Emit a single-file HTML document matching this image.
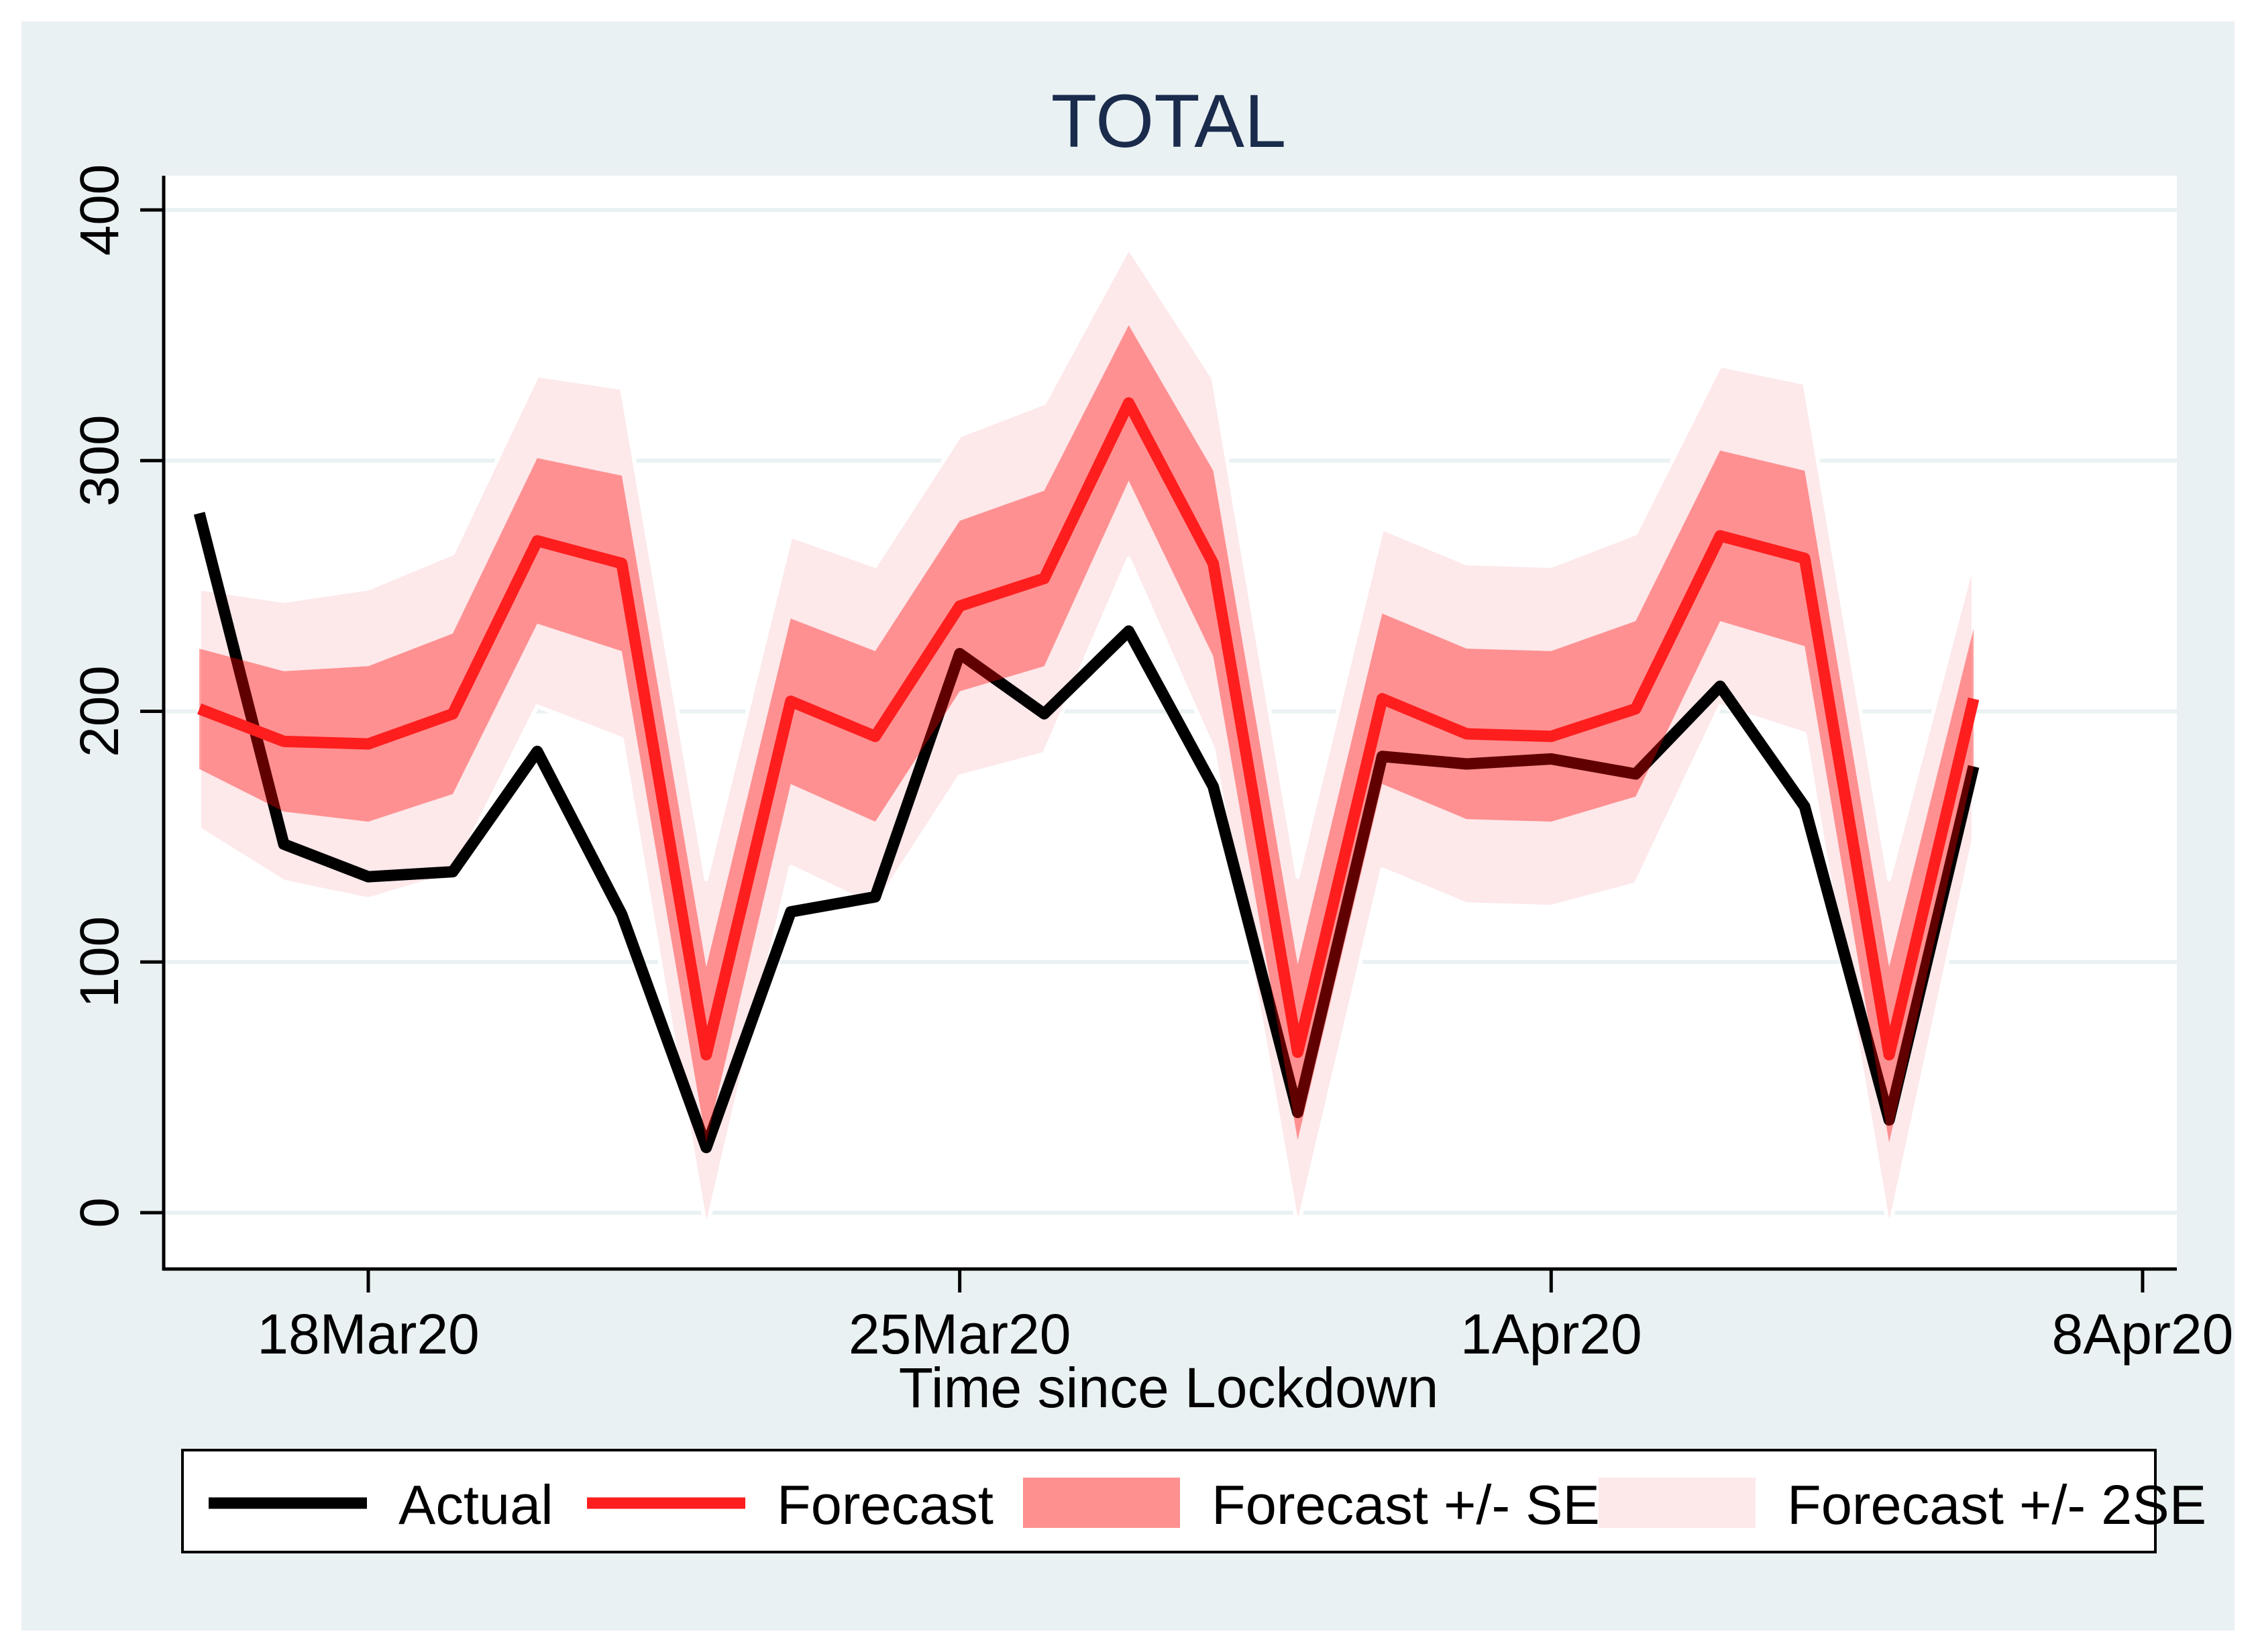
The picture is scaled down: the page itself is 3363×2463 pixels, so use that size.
<!DOCTYPE html>
<html><head><meta charset="utf-8"><style>
html,body{margin:0;padding:0;background:#fff}
svg{display:block;font-family:"Liberation Sans",Arial,sans-serif}
</style></head><body>
<svg id="chart" width="3363" height="2463" viewBox="0 0 3363 2463">
<rect x="32" y="32" width="3299" height="2399" fill="#eaf1f3"/>
<rect x="242" y="262" width="3003" height="1630" fill="#ffffff"/>
<text x="1742" y="219" font-size="112" fill="#1a2b4c" text-anchor="middle">TOTAL</text>
<g id="grid"></g>
<g id="series"></g>
<g id="axes"></g>
<text x="1742" y="2098" font-size="84" text-anchor="middle">Time since Lockdown</text>
<g>
<rect x="272" y="2162" width="2941" height="152" fill="#fff" stroke="#000" stroke-width="4"/>
<line x1="311" y1="2241" x2="547" y2="2241" stroke="#000" stroke-width="17"/>
<text x="594" y="2272" font-size="83">Actual</text>
<line x1="875" y1="2241" x2="1111" y2="2241" stroke="#ff1e1e" stroke-width="17"/>
<text x="1158" y="2272" font-size="83">Forecast</text>
<rect x="1525" y="2203" width="234" height="75" fill="#ff9090"/>
<text x="1806" y="2272" font-size="83">Forecast +/- SE</text>
<rect x="2383" y="2203" width="234" height="75" fill="#fde8ea"/>
<text x="2664" y="2272" font-size="83">Forecast +/- 2SE</text>
</g>
</svg>
<script>
const days = ["16Mar","17Mar","18Mar","19Mar","20Mar","21Mar","22Mar","23Mar","24Mar","25Mar","26Mar","27Mar","28Mar","29Mar","30Mar","31Mar","1Apr","2Apr","3Apr","4Apr","5Apr","6Apr"];
const actual = [279,147,134,136,184,119,26,120,126,223,199,232,170,40,182,179,181,175,210,162,37,178];
const forecast = [201,188,187,199,268,259,63,204,190,242,253,323,259,64,205,191,190,201,270,261,63,205];
const se = [24,28,31,32,33,35,35,33,34,34,35,31,37,35,34,34,34,35,34,35,35,28];
const yTicks = [0,100,200,300,400];
const xTickLabels = ["18Mar20","25Mar20","1Apr20","8Apr20"];
const xTickDays = [2,9,16,23];

const NS = "http://www.w3.org/2000/svg";
const y = v => 1808 - v * (1808 - 313) / 400;
const x = i => 549 + (i - 2) * 125.95;
function mk(tag, attrs, parent){const e=document.createElementNS(NS,tag);for(const k in attrs)e.setAttribute(k,attrs[k]);parent.appendChild(e);return e;}
const grid=document.getElementById('grid'), ser=document.getElementById('series'), ax=document.getElementById('axes');

yTicks.forEach(t=>{
  const g=mk('line',{x1:242,x2:3245,y1:y(t),y2:y(t),stroke:'#eaf1f3','stroke-width':6},grid);
  
  
});

function pts(arr){return arr.map((v,i)=>x(i)+','+y(v)).join(' ');}
function band(lo,hi){return lo.map((v,i)=>x(i)+','+y(v)).join(' ')+' '+hi.map((v,i)=>[x(i),y(v)]).reverse().map(p=>p.join(',')).join(' ');}
const lo1=forecast.map((f,i)=>f-se[i]), hi1=forecast.map((f,i)=>f+se[i]);
const lo2=forecast.map((f,i)=>f-2*se[i]), hi2=forecast.map((f,i)=>f+2*se[i]);

const b2=mk('polygon',{points:band(lo2,hi2),fill:'#fde8ea',stroke:'#ffffff','stroke-width':6,'stroke-linejoin':'round'},ser);


const al=mk('polyline',{points:pts(actual),fill:'none',stroke:'#000','stroke-width':17,'stroke-linejoin':'round'},ser);


const b1=mk('polygon',{points:band(lo1,hi1),fill:'rgba(255,0,0,0.38)'},ser);


const fl=mk('polyline',{points:pts(forecast),fill:'none',stroke:'#ff1e1e','stroke-width':17,'stroke-linejoin':'round'},ser);



const yl=mk('line',{x1:244,x2:244,y1:262,y2:1894,stroke:'#000','stroke-width':5},ax);


const xl=mk('line',{x1:242,x2:3245,y1:1892,y2:1892,stroke:'#000','stroke-width':5},ax);


yTicks.forEach(t=>{
  const tk=mk('line',{x1:209,x2:244,y1:y(t),y2:y(t),stroke:'#000','stroke-width':5},ax);
  
  
  const tx=mk('text',{x:0,y:0,'font-size':82,'text-anchor':'middle',transform:`translate(176,${y(t)}) rotate(-90)`},ax);
  tx.textContent=t;
  
  
});
xTickDays.forEach((d,i)=>{
  const tk=mk('line',{x1:x(d),x2:x(d),y1:1892,y2:1927,stroke:'#000','stroke-width':5},ax);
  
  
  const tx=mk('text',{x:x(d),y:2018,'font-size':84,'text-anchor':'middle'},ax);
  tx.textContent=xTickLabels[i];
  
  
});
</script>
</body></html>
